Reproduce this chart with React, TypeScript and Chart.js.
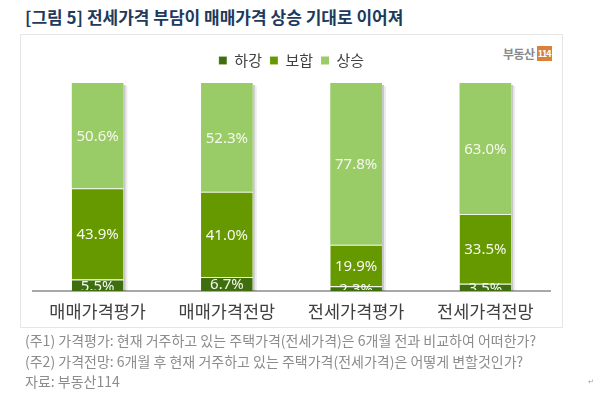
import React, { useEffect, useRef } from "react";
import { Chart, registerables } from "chart.js";

Chart.register(...registerables);

const titleText = "[그림 5] 전세가격 부담이 매매가격 상승 기대로 이어져";
const categories = ["매매가격평가", "매매가격전망", "전세가격평가", "전세가격전망"];
const seriesNames = ["하강", "보합", "상승"];
const fallValues = [5.5, 6.7, 2.3, 3.5];
const flatValues = [43.9, 41.0, 19.9, 33.5];
const riseValues = [50.6, 52.3, 77.8, 63.0];
const seriesColors = ["#3f6e0e", "#669900", "#99cc66"];
const footnotes = [
  "(주1) 가격평가: 현재 거주하고 있는 주택가격(전세가격)은 6개월 전과 비교하여 어떠한가?",
  "(주2) 가격전망: 6개월 후 현재 거주하고 있는 주택가격(전세가격)은 어떻게 변할것인가?",
  "자료: 부동산114",
];

const KR = '"Noto Sans CJK KR", "Noto Sans", sans-serif';

const legendGap = {
  id: "legendGap",
  beforeInit(chart: any) {
    const lg = chart.legend;
    if (!lg) return;
    const orig = lg.fit;
    lg.fit = function () {
      orig.call(this);
      this.height += 5;
    };
  },
};

const barShadow = {
  id: "barShadow",
  beforeDatasetsDraw(chart: any) {
    const ctx = chart.ctx;
    const first = chart.getDatasetMeta(0);
    const last = chart.getDatasetMeta(chart.data.datasets.length - 1);
    ctx.save();
    first.data.forEach((el: any, j: number) => {
      const p = el.getProps(["x", "base", "width"], true);
      const top = last.data[j].getProps(["y"], true).y;
      const right = p.x + p.width / 2;
      ctx.fillStyle = "rgba(0,0,0,0.22)";
      ctx.fillRect(right, top + 2, 2, p.base - top - 2);
      ctx.fillStyle = "rgba(0,0,0,0.08)";
      ctx.fillRect(right + 2, top + 3, 2, p.base - top - 3);
    });
    ctx.restore();
  },
};

const valueLabels = {
  id: "valueLabels",
  afterDatasetsDraw(chart: any) {
    const ctx = chart.ctx;
    const a = chart.chartArea;
    ctx.save();
    ctx.beginPath();
    ctx.rect(a.left, a.top, a.right - a.left, a.bottom - a.top - 1);
    ctx.clip();
    ctx.font = '15px "Noto Sans", sans-serif';
    ctx.fillStyle = "#f6f8ee";
    ctx.textAlign = "center";
    ctx.textBaseline = "middle";
    chart.data.datasets.forEach((ds: any, i: number) => {
      const meta = chart.getDatasetMeta(i);
      meta.data.forEach((el: any, j: number) => {
        const p = el.getProps(["x", "y", "base"], true);
        ctx.fillText(Number(ds.data[j]).toFixed(1) + "%", p.x, (p.y + p.base) / 2 + 1);
      });
    });
    ctx.restore();
  },
};

function ChartBox() {
  const ref = useRef<HTMLCanvasElement | null>(null);
  useEffect(() => {
    if (!ref.current) return;
    const seriesValues = [fallValues, flatValues, riseValues];
    const chart = new Chart(ref.current, {
      type: "bar",
      data: {
        labels: categories,
        datasets: seriesNames.map((name, i) => ({
          label: name,
          data: seriesValues[i],
          backgroundColor: seriesColors[i],
          borderColor: "rgba(235,245,220,0.85)",
          borderWidth: i < 2 ? { top: 1, left: 0, right: 0, bottom: 0 } : 0,
          borderSkipped: false,
          categoryPercentage: 1,
          barPercentage: 0.4,
        })),
      },
      options: {
        animation: false,
        responsive: true,
        maintainAspectRatio: false,
        layout: { padding: { top: 10, left: 12, right: 12, bottom: 3 } },
        plugins: {
          legend: {
            position: "top",
            labels: {
              boxWidth: 8,
              boxHeight: 8,
              padding: 8,
              color: "#404040",
              font: { size: 15, family: KR },
            },
          },
          tooltip: { enabled: false },
        },
        scales: {
          x: {
            stacked: true,
            grid: { display: false, drawTicks: false },
            border: { display: true, color: "#a8a8a8", width: 2 },
            ticks: {
              color: "#404040",
              font: { size: 17.5, family: KR },
              padding: 10,
              maxRotation: 0,
              autoSkip: false,
            },
          },
          y: { stacked: true, display: false, min: 0, max: 100 },
        },
      },
      plugins: [legendGap, barShadow, valueLabels],
    });
    return () => chart.destroy();
  }, []);
  return <canvas ref={ref} />;
}

export default function App() {
  return (
    <div style={{ position: "fixed", left: 0, top: 0, width: 600, height: 395, background: "#fff", overflow: "hidden", fontFamily: KR }}>
      <div style={{ position: "absolute", left: 25, top: 4, fontSize: 17, fontWeight: 700, color: "#1d3a5c", whiteSpace: "nowrap", lineHeight: "26px" }}>
        {titleText}
      </div>
      <div style={{ position: "absolute", left: 20, top: 34, width: 541, height: 292, border: "1px solid #e6e6e6" }} />
      <div style={{ position: "absolute", left: 503, top: 46, height: 15, display: "flex", alignItems: "center", whiteSpace: "nowrap" }}>
        <span style={{ fontSize: 12, fontWeight: 700, color: "#8a8a8a", letterSpacing: -0.5 }}>부동산</span>
        <span style={{ marginLeft: 2, background: "#d9823c", color: "#fff", fontSize: 9, fontWeight: 700, padding: "1px 1px", lineHeight: "13px", letterSpacing: -1 }}>114</span>
      </div>
      <div style={{ position: "absolute", left: 21, top: 35, width: 541, height: 300 }}>
        <ChartBox />
      </div>
      {footnotes.map((t, i) => (
        <div key={i} style={{ position: "absolute", left: 25, top: 331 + i * 20.5, fontSize: 14, color: "#8c8c8c", whiteSpace: "nowrap", lineHeight: "18px" }}>
          {t}
        </div>
      ))}
      <div style={{ position: "absolute", left: 588, top: 376, fontSize: 7, color: "#999" }}>↵</div>
    </div>
  );
}
